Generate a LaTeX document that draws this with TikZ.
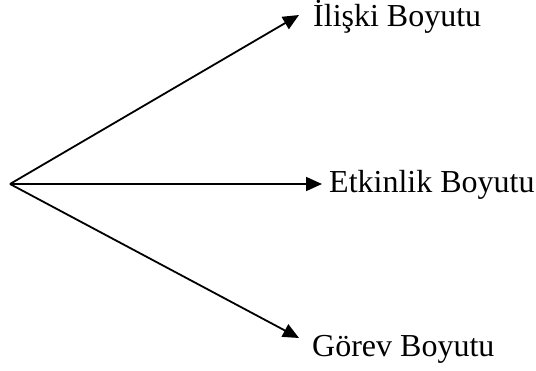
\documentclass[tikz,border=0pt]{standalone}
\usepackage{fontspec}
\setmainfont{Liberation Serif}
\usetikzlibrary{arrows.meta}
\begin{document}
\begin{tikzpicture}[x=1pt,y=-1pt,
  conn/.style={line width=1.8pt,-{Triangle[length=16pt,width=14pt]}},
  lbl/.style={anchor=base west,inner sep=0pt,font=\fontsize{32}{36}\selectfont}]
\useasboundingbox (0,0) rectangle (536,371);
\coordinate (o) at (10,184);
\coordinate (t1) at (299,15);
\coordinate (t2) at (322,184);
\coordinate (t3) at (299,338);
\node[lbl] (iliski) at (313,27) {İlişki Boyutu};
\node[lbl] (etkinlik) at (329,193) {Etkinlik Boyutu};
\node[lbl] (gorev) at (312,357) {Görev Boyutu};
\draw[conn] (o) -- (t1);
\draw[conn] (o) -- (t2);
\draw[conn] (o) -- (t3);
\end{tikzpicture}
\end{document}
